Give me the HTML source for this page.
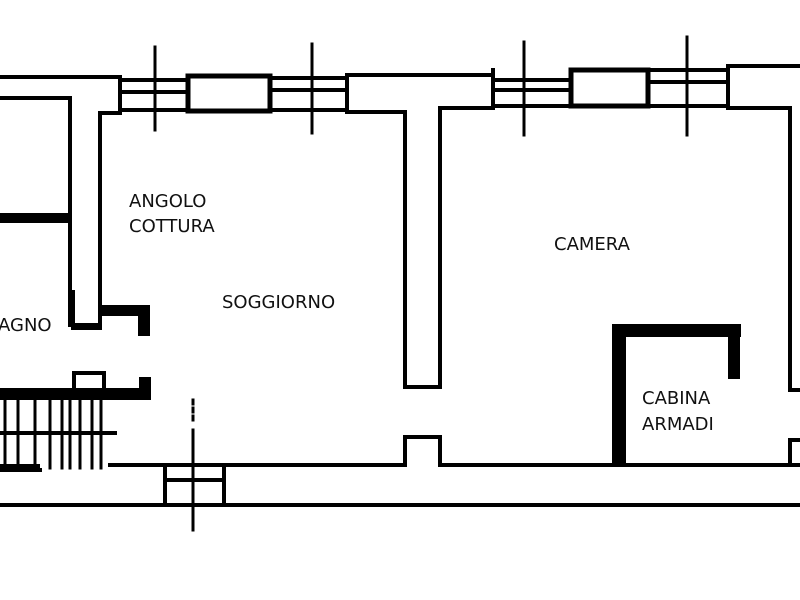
<!DOCTYPE html>
<html><head><meta charset="utf-8"><style>
html,body{margin:0;padding:0;background:#fff;width:800px;height:600px;overflow:hidden}
svg{display:block}
text{font-family:"DejaVu Sans","Liberation Sans",sans-serif;font-size:18px;fill:#111}
</style></head><body>
<svg width="800" height="600" viewBox="0 0 800 600" xmlns="http://www.w3.org/2000/svg">
<g stroke="#000" stroke-width="4" fill="none" stroke-linecap="square">
<path d="M0 77 H120"/>
<path d="M0 98 H70 V325 H100 V113 H120"/>
<path d="M120 77 V112 M120 80 H187 M120 92 H187 M120 110 H187"/>
<rect x="188" y="76" width="82" height="35" stroke-width="5"/>
<path d="M270 78 H347 M270 90 H347 M270 110 H347 M347 75 V112"/>
<path d="M347 75 H493 M347 112 H405 V387 H440 V108 H493"/>
<path d="M493 70 V108 M493 80 H570 M493 90 H570 M493 106 H570"/>
<rect x="571" y="70" width="77" height="36" stroke-width="5"/>
<path d="M648 70 H728 M648 82 H728 M648 106 H728 M728 68 V108"/>
<path d="M728 66 H800 M728 108 H790 V390 H800"/>
<path d="M800 440 H790 V465"/>
<path d="M110 465 H405 V437 H440 V465 H800"/>
<path d="M0 505 H800"/>
<path d="M0 470 H40"/>
<path d="M165 465 V505 M224 465 V505 M165 480 H224"/>
<path d="M155 47 V130 M312 44 V133 M524 42 V135 M687 37 V135 M193 430 V530" stroke-width="3"/>
<path d="M193 400 V420" stroke-width="3" stroke-dasharray="4 4"/>
<path d="M73 292 V328 H100"/>
<rect x="74" y="373" width="30" height="20"/>
<path d="M0 433 H115"/>
<path d="M5 400 V468 M18 400 V468 M35 400 V468 M50 400 V468 M62 400 V468 M70 400 V468 M80 400 V468 M92 400 V468 M101 400 V468" stroke-width="3"/>
</g>
<g fill="#000">
<rect x="0" y="213" width="70" height="10"/>
<rect x="100" y="305" width="50" height="11"/>
<rect x="138" y="305" width="12" height="31"/>
<rect x="0" y="388" width="150" height="12"/>
<rect x="139" y="377" width="12" height="23"/>
<rect x="0" y="464" width="40" height="7"/>
<rect x="612" y="324" width="14" height="142"/>
<rect x="612" y="324" width="129" height="13"/>
<rect x="728" y="324" width="12" height="55"/>
</g>
<text x="129" y="207">ANGOLO</text>
<text x="129" y="232">COTTURA</text>
<text x="222" y="308">SOGGIORNO</text>
<text x="-2" y="331">AGNO</text>
<text x="554" y="250">CAMERA</text>
<text x="642" y="404">CABINA</text>
<text x="642" y="430">ARMADI</text>
</svg>
</body></html>
